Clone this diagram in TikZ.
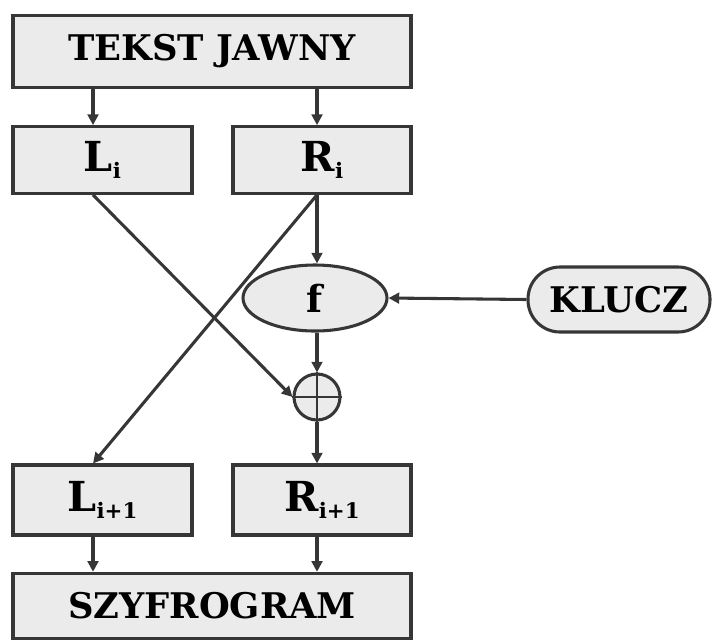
\documentclass[tikz,border=0pt]{standalone}
\usepackage{fontspec}
\setmainfont{DejaVu Serif}
\usetikzlibrary{shapes.geometric,arrows.meta}
\definecolor{edge}{HTML}{363636}
\definecolor{panel}{HTML}{EBEBEB}
% subscript index set slightly below the baseline
\newcommand{\idx}[1]{\raisebox{-5.5pt}{\fontsize{16}{16}\selectfont #1}}
\tikzset{
  base/.style={draw=edge, fill=panel, line width=2.3pt, inner sep=0pt, text=black},
  wide/.style={base, rectangle, minimum width=298.5pt, minimum height=54pt,
    font=\bfseries\fontsize{26.5}{29}\selectfont},
  half/.style={base, rectangle, minimum height=50pt,
    font=\bfseries\fontsize{31}{33}\selectfont},
  func/.style={base, ellipse, minimum width=108pt, minimum height=49.5pt,
    font=\bfseries\fontsize{28}{30}\selectfont},
  keybox/.style={base, rectangle, rounded corners=24pt, minimum width=136.5pt,
    minimum height=48.75pt, font=\bfseries\fontsize{26.5}{29}\selectfont},
  xorc/.style={base, circle, fill=panel, minimum size=34.5pt},
  link/.style={draw=edge, line width=2.3pt, -{Triangle[length=8pt,width=8pt]}},
}
\begin{document}
\begin{tikzpicture}[x=0.75pt,y=-0.75pt]
\useasboundingbox (0,0) rectangle (713,640);
% columns the vertical connectors run along
\coordinate (colL) at (93,0);
\coordinate (colR) at (317,0);

\node[wide] (plain) at (212,51.5) {TEKST JAWNY};
\node[half, minimum width=134.25pt] (Li) at (102.5,160) {L\idx{i}};
\node[half, minimum width=133.5pt] (Ri) at (322,160) {R\idx{i}};
\node[func] (f) at (315,298) {f};
\node[keybox] (key) at (619,299.5) {KLUCZ};
\node[xorc] (xor) at (317,397) {};
\draw[edge, line width=1.6pt] (xor.north) -- (xor.south) (xor.west) -- (xor.east);
\node[half, minimum width=134.25pt, minimum height=52.5pt] (Li1) at (102.5,500) {L\idx{i+1}};
\node[half, minimum width=133.5pt, minimum height=52.5pt] (Ri1) at (322,500) {R\idx{i+1}};
\node[wide, minimum height=49pt] (cipher) at (212,606) {SZYFROGRAM};

% split of the plaintext
\draw[link] (plain.south -| colL) -- (Li.north -| colL);
\draw[link] (plain.south -| colR) -- (Ri.north -| colR);
% round function
\draw[link] (Ri.south -| colR) -- (f.north -| colR);
\draw[link] (key.west) -- (f.east);
\draw[link] (f.south -| colR) -- (xor.north);
\draw[link] (Li.south -| colL) -- (xor.west);
\draw[link] (Ri.south -| colR) -- (Li1.north -| colL);
\draw[link] (xor.south) -- (Ri1.north -| colR);
% joining into the ciphertext
\draw[link] (Li1.south -| colL) -- (cipher.north -| colL);
\draw[link] (Ri1.south -| colR) -- (cipher.north -| colR);
\end{tikzpicture}
\end{document}
